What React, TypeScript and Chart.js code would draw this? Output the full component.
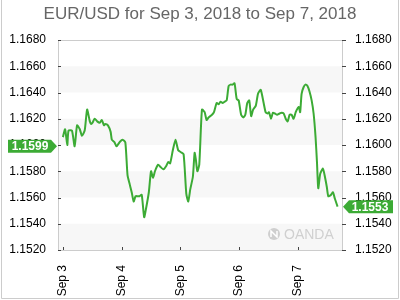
import React, { useEffect, useRef } from "react";
import { Chart, registerables } from "chart.js";
Chart.register(...registerables);

const titleText = "EUR/USD for Sep 3, 2018 to Sep 7, 2018";
const dayLabels = ["Sep 3", "Sep 4", "Sep 5", "Sep 6", "Sep 7"];
const dayHours = [0, 24, 48, 72, 96];
const yTicks = [1.152, 1.154, 1.156, 1.158, 1.16, 1.162, 1.164, 1.166, 1.168];
const openRate = 1.1599;
const lastRate = 1.1553;

// hours since Sep 3 00:00
const hours = [
  0, 0.9, 1.8, 2.3, 3.7, 4.8, 5.8, 6.9, 7.8, 8.9, 9.9, 11.0, 11.6, 12.1, 13.0, 14.0, 15.1, 15.9, 16.8, 17.3,
  18.4, 19.5, 20.0, 21.1, 21.9, 23.3, 24.4, 25.5, 26.4, 27.3, 28.1, 28.9, 29.7, 30.5, 31.3, 32.2, 33.2, 34.0,
  35.1, 36.0, 36.8, 37.6, 38.9, 40.0, 41.1, 42.2, 43.0, 43.8, 44.9, 46.0, 47.1, 48.2, 49.3, 50.4, 51.2, 52.0,
  53.1, 53.8, 54.3, 54.9, 55.7, 56.8, 57.9, 58.7, 59.5, 60.9, 61.7, 62.8, 63.6, 64.4, 65.2, 66.1, 66.9, 67.7,
  68.5, 69.3, 70.1, 71.0, 71.8, 72.8, 73.7, 74.5, 75.3, 76.1, 76.9, 77.7, 78.8, 79.7, 80.8, 82.0, 82.8, 83.6,
  84.2, 85.0, 85.8, 86.6, 87.5, 88.5, 89.3, 90.2, 91.0, 91.8, 92.6, 93.4, 94.2, 95.1, 95.9, 96.4, 96.9, 97.5,
  98.3, 99.1, 99.9, 100.7, 101.6, 102.4, 103.2, 103.8, 104.3, 105.1, 106.2, 107.0, 107.8, 108.4, 109.5, 110.3,
  111.1, 112.2,
];

const rates = [
  1.1606, 1.1612, 1.16, 1.1611, 1.1611, 1.1599, 1.1615, 1.1612, 1.1607, 1.1611, 1.1627, 1.1618, 1.1616, 1.1617,
  1.162, 1.1618, 1.1617, 1.1619, 1.1615, 1.1616, 1.1615, 1.161, 1.1604, 1.1602, 1.1599, 1.16025, 1.1604, 1.1602,
  1.1577, 1.157, 1.1564, 1.1557, 1.1561, 1.1561, 1.1561, 1.1562, 1.1545, 1.1552, 1.1564, 1.158, 1.1575, 1.158,
  1.1585, 1.1583, 1.15815, 1.1584, 1.1587, 1.1586, 1.1596, 1.1604, 1.1596, 1.15945, 1.1593, 1.1563, 1.1557,
  1.1566, 1.1576, 1.1594, 1.1589, 1.158, 1.1585, 1.1627, 1.1625, 1.1619, 1.1621, 1.1623, 1.1625, 1.1632, 1.1631,
  1.1633, 1.1632, 1.1633, 1.1634, 1.1645, 1.1646, 1.1646, 1.1647, 1.1635, 1.1634, 1.1623, 1.1621, 1.1623, 1.1632,
  1.1634, 1.1622, 1.1627, 1.163, 1.1639, 1.1642, 1.1632, 1.1625, 1.1624, 1.1625, 1.162, 1.16246, 1.1624, 1.1623,
  1.1624, 1.16246, 1.1624, 1.162, 1.1618, 1.1623, 1.1623, 1.162, 1.1625, 1.1628, 1.1629, 1.1625, 1.1639, 1.1644,
  1.1646, 1.1645, 1.1641, 1.1634, 1.1624, 1.1606, 1.1586, 1.1567, 1.1578, 1.1582, 1.1576, 1.1568, 1.1561, 1.1562,
  1.1564, 1.1559, 1.1553,
];

const GREEN = "#3cab35";
const FONT = "'Liberation Sans', Arial, sans-serif";

const decorPlugin = {
  id: "decor",
  beforeDraw(chart: any) {
    const { ctx, chartArea: a } = chart;
    const y = chart.scales.y;
    ctx.save();
    ctx.fillStyle = "#ffffff";
    ctx.fillRect(0, 0, chart.width, chart.height);
    // alternating bands
    ctx.fillStyle = "#f7f7f7";
    for (let i = 0; i < yTicks.length - 1; i += 2) {
      const top = y.getPixelForValue(yTicks[i + 1]);
      const bot = y.getPixelForValue(yTicks[i]);
      ctx.fillRect(a.left, top, a.right - a.left, bot - top);
    }
    // outer frame (left, right, bottom)
    ctx.strokeStyle = "#cccccc";
    ctx.lineWidth = 1;
    ctx.beginPath();
    ctx.moveTo(1.5, 0);
    ctx.lineTo(1.5, 298.5);
    ctx.lineTo(398.5, 298.5);
    ctx.lineTo(398.5, 0);
    ctx.stroke();
    // title
    ctx.fillStyle = "#666666";
    ctx.font = `17px ${FONT}`;
    ctx.textAlign = "center";
    ctx.textBaseline = "alphabetic";
    ctx.fillText(titleText, 200, 19);
    ctx.restore();
  },
  beforeDatasetsDraw(chart: any) {
    const { ctx, chartArea: a } = chart;
    const y = chart.scales.y;
    const x = chart.scales.x;
    ctx.save();
    // watermark
    ctx.fillStyle = "#cfcfcf";
    ctx.beginPath();
    ctx.arc(274, 234, 6, 0, Math.PI * 2);
    ctx.fill();
    ctx.strokeStyle = "#ffffff";
    ctx.lineWidth = 1.5;
    ctx.beginPath();
    ctx.moveTo(271, 237);
    ctx.lineTo(271, 231);
    ctx.lineTo(277, 237);
    ctx.lineTo(277, 231);
    ctx.stroke();
    ctx.fillStyle = "#d0d0d0";
    ctx.font = `14px ${FONT}`;
    ctx.textAlign = "left";
    ctx.textBaseline = "middle";
    ctx.fillText("OANDA", 284, 235);
    // frame
    ctx.strokeStyle = "#cccccc";
    ctx.lineWidth = 1;
    ctx.strokeRect(Math.round(a.left) + 0.5, Math.round(a.top) + 0.5, Math.round(a.right - a.left), Math.round(a.bottom - a.top));
    // ticks
    ctx.strokeStyle = "#444444";
    ctx.beginPath();
    for (const v of yTicks) {
      const py = Math.round(y.getPixelForValue(v)) + 0.5;
      ctx.moveTo(a.left, py);
      ctx.lineTo(a.left + 3, py);
      ctx.moveTo(a.right, py);
      ctx.lineTo(a.right + 4, py);
    }
    for (const h of dayHours) {
      const px = Math.round(x.getPixelForValue(h)) + 0.5;
      ctx.moveTo(px, a.bottom);
      ctx.lineTo(px, a.bottom - 3);
    }
    ctx.stroke();
    ctx.restore();
  },
  afterDraw(chart: any) {
    const { ctx, chartArea: a } = chart;
    const y = chart.scales.y;
    ctx.save();
    ctx.font = `bold 12px ${FONT}`;
    ctx.textBaseline = "middle";
    ctx.textAlign = "center";
    // left badge (opening value)
    let py = y.getPixelForValue(openRate);
    ctx.fillStyle = GREEN;
    ctx.beginPath();
    ctx.moveTo(8, py - 6.5);
    ctx.lineTo(51, py - 6.5);
    ctx.lineTo(a.left - 1, py);
    ctx.lineTo(51, py + 6.5);
    ctx.lineTo(8, py + 6.5);
    ctx.closePath();
    ctx.fill();
    ctx.fillStyle = "#ffffff";
    ctx.fillText(openRate.toFixed(4), 30, py + 0.5);
    // right badge (last value)
    py = y.getPixelForValue(lastRate);
    ctx.fillStyle = GREEN;
    ctx.beginPath();
    ctx.moveTo(a.right + 1, py);
    ctx.lineTo(349, py - 6.5);
    ctx.lineTo(393, py - 6.5);
    ctx.lineTo(393, py + 6.5);
    ctx.lineTo(349, py + 6.5);
    ctx.closePath();
    ctx.fill();
    ctx.fillStyle = "#ffffff";
    ctx.fillText(lastRate.toFixed(4), 370, py + 0.5);
    ctx.restore();
  },
};

export default function App() {
  const ref = useRef<HTMLCanvasElement>(null);
  useEffect(() => {
    if (!ref.current) return;
    const yCommon = {
      min: yTicks[0],
      max: yTicks[yTicks.length - 1],
      grid: { display: false },
      border: { display: false },
      afterBuildTicks: (s: any) => {
        s.ticks = yTicks.map((v) => ({ value: v }));
      },
    };
    const chart = new Chart(ref.current, {
      type: "line",
      data: {
        datasets: [
          {
            data: hours.map((h, i) => ({ x: h, y: rates[i] })),
            borderColor: GREEN,
            borderWidth: 2,
            pointRadius: 0,
            tension: 0.2,
            fill: false,
          },
        ],
      },
      options: {
        animation: false,
        responsive: false,
        events: [],
        layout: { padding: { top: 40, left: 0, right: 0, bottom: 0 } },
        plugins: { legend: { display: false }, tooltip: { enabled: false }, title: { display: false } },
        scales: {
          x: {
            type: "linear",
            min: -2,
            max: 114,
            grid: { display: false },
            border: { display: false },
            afterBuildTicks: (s: any) => {
              s.ticks = dayHours.map((v) => ({ value: v }));
            },
            afterFit: (s: any) => {
              s.height = 50;
            },
            ticks: {
              autoSkip: false,
              minRotation: 90,
              maxRotation: 90,
              padding: 7,
              color: "#000000",
              font: { family: FONT, size: 12 },
              callback: (v: any) => {
                const i = dayHours.indexOf(Number(v));
                return i >= 0 ? dayLabels[i] : "";
              },
            },
          },
          y: {
            ...yCommon,
            position: "left",
            afterFit: (s: any) => {
              s.width = 58;
            },
            ticks: {
              padding: 4,
              color: "#000000",
              font: { family: FONT, size: 12 },
              callback: (v: any) => Number(v).toFixed(4),
            },
          },
          y2: {
            ...yCommon,
            position: "right",
            afterFit: (s: any) => {
              s.width = 58;
            },
            ticks: {
              padding: 5,
              color: "#000000",
              font: { family: FONT, size: 12 },
              callback: (v: any) => Number(v).toFixed(4),
            },
          },
        },
      } as any,
      plugins: [decorPlugin],
    });
    return () => chart.destroy();
  }, []);
  return (
    <div style={{ position: "absolute", left: 0, top: 0, width: 400, height: 300 }}>
      <canvas ref={ref} width={400} height={300} style={{ display: "block", width: 400, height: 300 }} />
    </div>
  );
}
